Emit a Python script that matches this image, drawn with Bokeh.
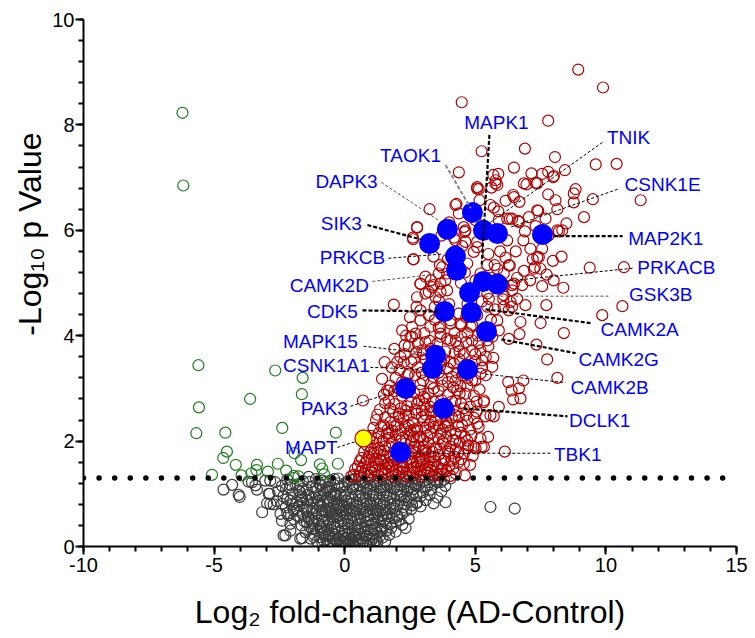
import numpy as np
from bokeh.plotting import figure
from bokeh.models import Range1d, SingleIntervalTicker, ColumnDataSource
from bokeh.core.properties import value
from bokeh.embed import file_html
from bokeh.resources import INLINE

# ---------------- data ----------------
green_pts = [(-6.21, 8.23), (-6.18, 6.85), (-5.60, 3.44), (-5.58, 2.64), (-5.68, 2.15), (-3.62, 2.80),
             (-2.66, 3.34), (-1.61, 3.20), (-1.64, 2.89), (-2.39, 2.25), (-4.57, 2.16), (-4.51, 1.80),
             (-4.65, 1.68), (-4.17, 1.55), (-0.34, 2.16), (-0.26, 1.57), (-1.92, 1.77), (-1.67, 1.64),
             (-2.56, 1.57), (-2.24, 1.44), (-3.36, 1.55), (-3.38, 1.45), (-3.57, 1.39), (-2.94, 1.42),
             (-5.08, 1.36), (-3.95, 1.35), (-0.95, 1.56), (-0.86, 1.48), (-0.79, 1.37), (-1.95, 1.34),
             (-1.77, 1.33)]

red_pts = [
    (8.94, 9.05), (9.89, 8.71), (4.48, 8.43), (7.79, 8.08), (5.24, 7.50), (6.90, 7.55), (8.05, 7.39),
    (9.61, 7.25), (10.41, 7.26), (4.37, 7.10), (8.43, 7.14), (6.48, 7.19), (7.15, 7.08), (7.56, 7.07),
    (7.79, 7.11), (8.01, 7.03), (5.69, 7.05), (5.88, 7.07), (5.77, 6.89), (5.62, 6.81), (7.31, 6.90),
    (6.96, 6.87), (8.84, 6.78), (8.77, 6.70), (11.33, 6.57), (9.50, 6.59), (7.79, 6.68), (8.07, 6.57),
    (8.77, 6.53), (6.45, 6.67), (6.16, 6.56), (6.69, 6.54), (5.13, 6.78), (5.16, 6.57), (4.28, 6.50),
    (3.25, 6.40), (5.71, 6.43), (5.88, 6.36), (7.41, 6.37), (7.69, 6.22), (8.14, 6.40), (9.16, 6.25),
    (8.49, 6.13), (8.14, 6.00), (8.33, 6.00), (5.01, 6.19), (4.37, 6.32), (4.56, 6.06), (4.60, 5.97),
    (6.22, 6.22), (6.41, 6.22), (6.67, 6.16), (2.77, 6.05), (2.61, 5.86), (4.18, 5.86), (4.24, 5.81),
    (5.07, 5.68), (6.22, 5.81), (6.84, 5.81), (7.11, 5.65), (7.56, 5.65), (7.43, 5.49), (7.97, 5.42),
    (6.16, 5.48), (5.46, 5.34), (5.74, 5.34), (6.32, 5.33), (6.86, 5.23), (7.28, 5.30), (7.49, 5.27),
    (7.73, 5.16), (9.38, 5.29), (10.69, 5.30), (8.37, 4.91), (7.56, 4.94), (6.80, 4.96), (6.41, 4.96),
    (6.09, 4.94), (3.73, 5.30), (3.92, 5.18), (2.64, 5.45), (3.09, 5.12), (2.90, 4.98), (3.22, 4.83),
    (3.41, 4.96), (3.67, 4.83), (3.60, 4.67), (1.88, 4.59), (5.52, 4.70), (6.07, 4.69), (6.35, 4.64),
    (6.92, 4.58), (7.72, 4.58), (10.63, 4.56), (9.86, 4.39), (6.41, 4.55), (6.09, 4.55),
    (8.39, 4.05), (7.75, 3.55), (8.14, 3.20), (7.34, 3.83), (6.69, 4.03), (6.28, 3.94), (5.65, 3.98),
    (5.69, 3.58), (5.26, 3.53), (5.65, 3.41), (5.26, 3.39), (6.67, 3.00), (6.45, 2.79), (6.73, 2.81),
    (6.39, 2.96), (6.84, 3.15), (6.26, 3.12), (5.90, 2.65), (5.33, 2.74), (5.58, 2.49), (5.71, 2.47),
    (5.39, 2.47), (5.13, 2.27), (5.49, 2.08), (6.13, 1.80), (5.24, 1.89), (5.01, 1.86), (4.73, 1.92),
    (4.56, 1.76), (4.35, 1.79), (4.56, 1.57), (4.09, 1.63), (3.79, 1.95), (3.73, 1.57), (3.54, 1.38),
    (4.24, 2.14), (3.86, 2.27), (3.60, 2.30), (4.24, 2.77), (4.24, 2.49), (4.56, 2.62), (4.62, 2.90),
    (4.88, 3.15), (5.16, 2.98), (4.88, 3.34), (4.43, 3.04), (4.11, 3.22), (3.73, 3.18), (4.18, 3.47),
    (4.21, 3.67), (4.56, 3.66), (4.88, 3.72), (4.98, 3.50), (5.13, 3.86), (5.46, 3.91), (4.47, 3.98),
    (3.92, 3.94), (3.67, 4.04), (4.05, 4.23), (4.47, 4.20), (4.88, 4.20), (5.84, 4.29), (6.73, 4.26),
    (7.50, 4.24), (6.28, 4.48), (2.71, 4.04), (3.09, 3.88), (2.30, 3.82), (2.74, 3.69), (2.13, 3.60),
    (1.53, 3.50), (2.01, 3.50), (1.43, 3.18), (1.69, 2.96), (2.90, 2.96), (3.41, 3.00), (2.84, 2.77),
    (3.28, 2.58), (3.09, 2.81), (1.69, 2.77), (1.49, 2.30), (2.33, 2.27), (2.77, 2.24), (2.84, 2.08),
    (2.68, 1.89), (3.09, 1.82), (3.28, 1.70), (2.56, 1.60), (3.16, 1.54), (1.82, 1.54), (2.20, 1.48),
    (2.90, 1.44), (1.37, 1.82), (1.69, 2.14), (2.45, 2.49), (2.07, 2.52),
    (0.70, 2.77), (1.82, 2.20), (1.30, 1.87), (1.11, 1.76), (0.92, 1.70), (1.62, 2.96), (2.26, 3.50),
    (2.45, 3.28), (2.97, 3.72), (2.58, 3.98), (3.67, 3.98), (4.05, 3.91), (4.88, 3.91), (5.20, 3.72),
    (5.20, 3.28), (4.24, 3.15), (4.31, 2.96), (3.03, 2.84), (2.77, 2.71), (3.28, 2.65), (2.33, 2.58),
    (2.07, 2.46), (3.03, 2.39), (3.67, 2.46), (3.41, 2.27), (2.77, 2.20), (2.52, 2.20), (2.90, 2.08),
    (3.67, 2.14), (4.05, 2.20), (4.24, 2.01), (4.69, 2.01), (4.94, 1.89), (5.33, 1.89), (4.69, 2.39),
    (5.07, 2.33), (5.33, 2.77), (4.37, 2.46), (2.13, 2.01), (1.62, 2.14), (3.03, 1.89), (2.64, 1.82),
    (1.37, 1.63), (1.62, 1.57), (2.90, 1.60), (3.41, 1.70), (3.79, 1.63),
    (2.77, 6.06), (2.62, 5.83), (2.62, 5.45), (3.64, 5.34), (4.24, 6.48), (5.07, 6.82), (4.62, 6.00),
    (4.62, 5.78), (5.07, 5.78), (4.94, 5.59), (4.69, 5.37), (3.60, 5.18), (2.90, 4.99), (3.35, 4.92),
    (3.67, 4.99), (3.92, 4.86), (3.09, 4.80), (2.77, 4.73), (3.48, 4.73), (2.90, 4.48), (3.22, 4.39),
    (2.90, 4.29), (2.58, 4.17), (3.28, 4.17), (3.67, 4.17), (4.05, 4.29), (4.37, 4.42), (4.43, 4.23),
    (4.82, 4.17), (5.07, 4.39), (5.46, 4.55), (5.46, 4.80), (5.20, 5.18), (5.01, 5.05), (2.52, 3.98),
    (5.78, 6.95), (5.84, 6.86), (7.98, 7.01), (6.86, 6.89), (7.37, 6.89), (6.48, 6.63), (5.58, 6.48),
    (5.07, 6.79), (8.20, 5.98), (7.37, 6.38), (6.32, 6.22), (6.64, 6.18), (7.31, 6.08), (7.37, 5.49),
    (7.24, 5.27), (6.28, 5.34), (5.84, 5.27), (6.09, 5.18), (6.48, 4.99), (6.41, 4.86), (6.09, 4.77),
    (0.35, 1.36), (0.62, 1.42), (0.90, 1.35), (1.15, 1.44), (1.42, 1.37), (1.68, 1.43), (1.95, 1.36),
    (2.22, 1.42), (2.48, 1.35), (2.75, 1.41), (3.05, 1.37), (3.30, 1.45), (3.62, 1.36), (3.90, 1.43),
    (4.25, 1.38), (4.60, 1.35), (0.50, 1.52), (0.78, 1.58), (1.05, 1.50), (1.30, 1.56), (1.58, 1.49),
    (1.85, 1.62), (2.10, 1.53), (2.38, 1.58), (2.65, 1.50), (2.95, 1.55), (3.25, 1.60), (3.55, 1.51),
    (4.00, 1.52), (4.35, 1.60), (4.80, 1.55), (0.65, 1.68), (0.95, 1.78), (1.20, 1.66), (1.48, 1.74),
    (1.75, 1.69), (2.00, 1.78), (2.30, 1.70), (2.55, 1.76), (2.85, 1.68), (3.10, 1.77), (3.60, 1.74),
    (3.95, 1.80), (4.20, 1.70), (4.90, 1.72), (0.85, 1.92), (1.10, 1.98), (1.55, 1.90), (1.80, 1.97),
    (2.05, 1.88), (2.30, 1.95), (2.55, 1.99), (2.85, 1.90), (3.20, 1.96), (3.50, 1.88), (3.75, 1.99),
    (4.05, 1.90), (4.40, 1.97), (4.70, 1.86), (1.00, 2.10), (1.30, 2.15), (1.95, 2.12), (2.20, 2.06),
    (2.45, 2.14), (3.15, 2.10), (3.40, 2.04), (3.90, 2.08), (4.45, 2.16), (4.85, 2.10), (5.20, 2.05),
    (1.20, 2.40), (1.75, 2.36), (2.00, 2.30), (2.25, 2.42), (2.60, 2.35), (2.95, 2.46), (3.25, 2.32),
    (3.50, 2.40), (3.90, 2.35), (4.10, 2.45), (4.50, 2.30), (4.95, 2.44), (1.35, 2.60), (1.90, 2.70),
    (2.15, 2.62), (2.55, 2.74), (2.95, 2.58), (3.55, 2.62), (3.85, 2.70), (4.00, 2.58), (4.45, 2.72),
    (4.80, 2.65), (5.05, 2.56), (1.50, 2.88), (1.90, 2.95), (2.20, 2.86), (2.50, 3.00), (3.20, 2.90),
    (3.60, 2.95), (3.95, 2.88), (4.15, 3.02), (4.70, 3.05), (4.95, 2.86), (1.95, 3.20), (2.20, 3.12),
    (2.70, 3.25), (3.00, 3.15), (3.40, 3.22), (3.60, 3.30), (3.95, 3.12), (4.50, 3.25), (5.00, 3.15),
    (1.80, 3.40), (2.55, 3.50), (2.80, 3.40), (3.10, 3.55), (3.35, 3.42), (3.70, 3.50), (3.95, 3.38),
    (4.40, 3.55), (5.40, 3.60), (1.90, 3.75), (2.45, 3.80), (3.30, 3.75), (3.55, 3.85), (3.85, 3.70),
    (4.35, 3.80), (4.65, 3.88), (2.20, 4.10), (3.05, 4.05), (3.45, 4.30), (3.90, 4.40), (4.20, 4.05),
    (4.65, 4.35), (5.30, 4.10), (5.60, 4.30),
    (0.25, 1.33), (0.55, 1.34), (0.75, 1.39), (1.00, 1.41), (1.28, 1.34), (1.55, 1.40), (1.82, 1.33),
    (2.08, 1.39), (2.35, 1.33), (2.62, 1.39), (2.90, 1.33), (3.18, 1.40), (3.45, 1.34), (3.75, 1.39),
    (4.05, 1.34), (0.40, 1.47), (0.68, 1.50), (0.92, 1.46), (1.18, 1.52), (1.45, 1.46), (1.72, 1.53),
    (1.98, 1.46), (2.25, 1.51), (2.52, 1.45), (2.80, 1.52), (3.08, 1.47), (3.40, 1.55), (3.70, 1.47),
    (4.15, 1.47), (0.58, 1.62), (0.85, 1.65), (1.12, 1.60), (1.38, 1.65), (1.65, 1.58), (1.92, 1.66),
    (2.20, 1.60), (2.48, 1.67), (2.75, 1.60), (3.00, 1.65), (3.45, 1.62), (3.85, 1.66), (4.45, 1.66),
    (0.75, 1.80), (1.02, 1.85), (1.25, 1.78), (1.50, 1.82), (1.70, 1.90), (2.15, 1.80), (2.42, 1.86),
    (2.70, 1.78), (3.00, 1.82), (3.35, 1.80), (3.65, 1.86), (4.00, 1.76), (4.25, 1.85), (0.95, 2.03),
    (1.20, 2.05), (1.45, 2.00), (1.70, 2.06), (2.35, 2.02), (2.65, 2.08), (3.00, 2.02), (3.30, 2.15),
    (3.60, 2.04), (4.15, 2.02), (4.60, 2.08), (1.10, 2.25), (1.40, 2.28), (1.65, 2.22), (1.90, 2.28),
    (2.15, 2.20), (2.45, 2.30), (2.65, 2.22), (3.10, 2.25), (3.30, 2.38), (3.75, 2.22), (3.95, 2.30),
    (4.35, 2.28), (4.80, 2.22), (1.25, 2.50), (1.55, 2.45), (1.85, 2.55), (2.35, 2.50), (2.75, 2.52),
    (3.10, 2.50), (3.40, 2.55), (3.80, 2.50), (4.25, 2.58), (4.65, 2.50), (1.55, 2.72), (1.75, 2.62),
    (2.40, 2.66), (2.70, 2.60), (3.05, 2.70), (3.40, 2.75), (3.70, 2.78), (4.10, 2.75), (4.40, 2.90),
    (5.05, 2.75), (1.75, 3.05), (2.05, 3.00), (2.35, 3.10), (2.65, 2.92), (2.90, 3.08), (3.30, 3.10),
    (3.75, 3.05), (4.30, 3.30), (4.70, 3.20), (2.10, 3.35), (2.40, 3.25), (2.95, 3.30), (3.20, 3.40),
    (3.65, 3.42), (4.05, 3.50), (4.65, 3.45), (5.40, 3.25), (2.30, 3.65), (2.65, 3.55), (3.00, 3.65),
    (3.40, 3.60), (3.80, 3.55), (4.40, 3.70), (5.00, 3.65), (5.50, 3.80), (2.35, 4.00), (2.80, 3.85),
    (3.25, 3.90), (3.60, 4.15), (4.25, 3.90), (4.70, 4.05), (5.10, 4.00), (5.90, 4.10), (2.50, 4.35),
    (2.75, 4.55), (3.45, 4.55), (4.00, 4.60), (4.70, 4.60), (5.25, 4.65), (5.75, 4.50), (6.60, 4.70),
    (3.30, 5.05), (3.85, 5.05), (4.45, 5.00), (4.60, 5.20), (5.60, 5.10), (6.60, 5.10), (7.10, 5.05),
    (8.00, 5.05), (3.40, 5.50), (3.95, 5.45), (4.50, 5.70), (5.50, 5.55), (5.95, 5.60), (6.55, 5.60),
    (7.20, 5.45), (8.30, 5.50), (3.70, 5.90), (4.00, 6.15), (5.35, 6.05), (5.90, 6.20), (6.90, 5.98),
    (7.05, 6.25), (7.80, 5.90)]

gray_pts = [
    (-4.64, 1.08), (-4.06, 0.98), (-4.02, 0.94), (-4.31, 1.17), (-3.68, 1.23), (-3.42, 1.16), (-3.36, 1.08),
    (-3.04, 1.25), (-2.87, 1.00), (-2.97, 0.82), (-3.16, 0.65), (-2.72, 0.80), (-2.66, 1.22), (-2.40, 0.81),
    (-2.46, 0.62), (-2.40, 0.49), (-2.08, 0.43), (-2.08, 0.30), (-2.34, 0.21), (-2.08, 1.17), (-2.08, 0.87),
    (-1.95, 0.72), (-1.70, 1.03), (-1.66, 0.89), (-1.44, 0.87), (-1.63, 0.16), (-1.70, 0.56), (-1.38, 1.32),
    (-1.95, 1.30), (-0.93, 1.16), (-0.74, 1.22), (-0.61, 1.13), (-0.42, 1.01), (-0.99, 0.87), (-0.87, 0.68),
    (-1.25, 0.49), (-0.93, 0.37), (-0.61, 0.24), (-0.42, 0.15), (-0.42, 0.56), (-0.16, 0.75), (-1.19, 0.18),
    (-3.55, 1.22), (-2.85, 1.25), (-2.91, 1.00), (-2.85, 0.81), (-2.15, 0.59), (-2.27, 0.21), (-1.70, 0.15),
    (-1.76, 1.06), (-1.63, 0.94), (-1.82, 0.68), (-1.44, 0.75), (-1.38, 0.53), (-1.19, 0.34), (-0.80, 0.49),
    (-0.67, 1.06), (-0.36, 1.00), (-0.29, 0.78), (-0.55, 0.68),
    (3.86, 0.84), (5.58, 0.75), (6.51, 0.72), (2.33, 0.35), (4.05, 1.29), (3.67, 1.22), (3.35, 1.32),
    (2.71, 1.19), (2.77, 0.84), (2.58, 0.78), (2.26, 0.75), (2.39, 1.06), (2.01, 0.56), (1.75, 0.43),
    (1.37, 0.30), (1.11, 0.18), (3.54, 1.22),
    (-0.85, 0.06), (-0.55, 0.04), (-0.30, 0.08), (-0.12, 0.02), (0.02, 0.05), (0.15, 0.03), (0.30, 0.07),
    (0.48, 0.04), (0.70, 0.09), (0.95, 0.05), (1.25, 0.08), (-1.05, 0.10),
    (-1.30, 0.15), (-0.95, 0.18), (-0.70, 0.13), (-0.45, 0.19), (-0.20, 0.14), (0.05, 0.17), (0.22, 0.12),
    (0.40, 0.19), (0.62, 0.15), (0.85, 0.20), (1.05, 0.13), (1.45, 0.17), (1.70, 0.22),
    (-1.50, 0.27), (-1.05, 0.30), (-0.78, 0.25), (-0.50, 0.31), (-0.25, 0.26), (0.00, 0.29), (0.28, 0.24),
    (0.52, 0.30), (0.75, 0.27), (1.00, 0.32), (1.25, 0.26), (1.60, 0.30), (1.95, 0.28),
    (-1.65, 0.40), (-1.35, 0.37), (-1.00, 0.43), (-0.70, 0.38), (-0.42, 0.44), (-0.15, 0.39), (0.12, 0.42),
    (0.38, 0.36), (0.60, 0.44), (0.85, 0.39), (1.10, 0.45), (1.40, 0.38), (2.20, 0.41),
    (-1.95, 0.52), (-1.55, 0.48), (-1.10, 0.55), (-0.60, 0.50), (-0.30, 0.55), (-0.05, 0.49), (0.22, 0.54),
    (0.50, 0.50), (0.75, 0.56), (1.00, 0.49), (1.25, 0.55), (1.50, 0.50), (1.80, 0.54), (2.10, 0.50),
    (2.45, 0.53),
    (-2.20, 0.63), (-1.60, 0.62), (-1.25, 0.66), (-1.00, 0.60), (-0.70, 0.65), (-0.40, 0.60), (-0.15, 0.67),
    (0.10, 0.61), (0.35, 0.66), (0.60, 0.62), (0.85, 0.68), (1.10, 0.61), (1.35, 0.66), (1.60, 0.62),
    (1.90, 0.67), (2.20, 0.62),
    (-2.25, 0.74), (-1.75, 0.78), (-1.20, 0.72), (-0.95, 0.77), (-0.60, 0.72), (-0.35, 0.70), (-0.05, 0.76),
    (0.20, 0.71), (0.45, 0.77), (0.72, 0.72), (0.98, 0.78), (1.22, 0.70), (1.50, 0.75), (1.75, 0.71),
    (2.00, 0.77), (2.55, 0.71), (2.90, 0.76),
    (-2.60, 0.86), (-2.20, 0.90), (-1.85, 0.84), (-1.25, 0.82), (-0.80, 0.85), (-0.55, 0.88), (-0.25, 0.83),
    (0.05, 0.87), (0.30, 0.82), (0.58, 0.89), (0.85, 0.83), (1.10, 0.88), (1.35, 0.81), (1.62, 0.87),
    (1.88, 0.82), (2.15, 0.89), (2.45, 0.85), (3.10, 0.88), (3.40, 0.82),
    (-2.35, 0.95), (-2.00, 1.00), (-1.40, 0.98), (-1.10, 0.93), (-0.80, 0.99), (-0.50, 0.94), (-0.15, 0.97),
    (0.15, 0.92), (0.42, 0.98), (0.70, 0.93), (0.95, 1.00), (1.20, 0.94), (1.48, 0.99), (1.72, 0.93),
    (2.00, 0.98), (2.30, 0.94), (2.60, 0.99), (2.90, 0.95), (3.25, 0.98), (3.55, 0.93),
    (-2.55, 1.05), (-2.25, 1.09), (-1.45, 1.08), (-1.15, 1.03), (-0.85, 1.08), (-0.55, 1.04), (-0.20, 1.10),
    (0.05, 1.04), (0.32, 1.09), (0.60, 1.03), (0.85, 1.08), (1.10, 1.02), (1.38, 1.07), (1.62, 1.03),
    (1.88, 1.09), (2.15, 1.04), (2.65, 1.09), (3.00, 1.03), (3.30, 1.08), (3.70, 1.05),
    (-2.40, 1.15), (-1.80, 1.18), (-1.25, 1.14), (-0.95, 1.19), (-0.40, 1.17), (-0.10, 1.13), (0.18, 1.19),
    (0.45, 1.14), (0.72, 1.20), (0.98, 1.15), (1.25, 1.19), (1.50, 1.13), (1.75, 1.18), (2.00, 1.14),
    (2.30, 1.19), (2.55, 1.13), (2.85, 1.18), (3.15, 1.14), (3.45, 1.19), (3.85, 1.15),
    (-2.20, 1.27), (-1.60, 1.24), (-1.10, 1.28), (-0.55, 1.25), (-0.25, 1.29), (0.10, 1.23), (0.40, 1.28),
    (0.68, 1.24), (0.95, 1.29), (1.22, 1.23), (1.50, 1.27), (1.80, 1.23), (2.10, 1.28), (2.40, 1.24),
    (2.70, 1.29), (3.00, 1.25), (3.25, 1.22), (3.60, 1.28),
    (-0.65, 0.02), (-0.40, 0.05), (-0.20, 0.04), (-0.05, 0.08), (0.08, 0.02), (0.22, 0.06), (0.38, 0.02),
    (0.58, 0.06), (0.80, 0.03), (1.10, 0.04), (-0.80, 0.11), (-0.55, 0.10), (-0.33, 0.12), (-0.08, 0.10),
    (0.12, 0.11), (0.32, 0.10), (0.50, 0.12), (0.72, 0.10), (0.95, 0.14), (1.20, 0.12), (1.55, 0.10),
    (-1.15, 0.22), (-0.85, 0.23), (-0.60, 0.20), (-0.35, 0.22), (-0.08, 0.20), (0.15, 0.24), (0.35, 0.20),
    (0.58, 0.23), (0.80, 0.21), (1.10, 0.23), (1.35, 0.20), (-1.25, 0.33), (-0.92, 0.34), (-0.65, 0.33),
    (-0.38, 0.35), (-0.10, 0.33), (0.15, 0.34), (0.40, 0.32), (0.65, 0.35), (0.90, 0.32), (1.15, 0.34),
    (1.45, 0.33), (1.78, 0.35), (-1.45, 0.46), (-1.20, 0.44), (-0.85, 0.47), (-0.55, 0.45), (-0.25, 0.47),
    (0.00, 0.44), (0.28, 0.47), (0.50, 0.43), (0.80, 0.47), (1.05, 0.43), (1.30, 0.47), (1.60, 0.44),
    (1.95, 0.47), (-1.80, 0.58), (-1.40, 0.57), (-0.85, 0.58), (-0.50, 0.57), (-0.20, 0.60), (0.05, 0.56),
    (0.35, 0.58), (0.60, 0.56), (0.90, 0.59), (1.15, 0.57), (1.45, 0.59), (1.70, 0.57), (2.00, 0.60),
    (-1.95, 0.68), (-1.45, 0.70), (-1.10, 0.68), (-0.80, 0.70), (-0.50, 0.66), (-0.25, 0.72), (0.05, 0.69),
    (0.30, 0.68), (0.55, 0.70), (0.80, 0.66), (1.05, 0.71), (1.28, 0.68), (1.55, 0.70), (1.85, 0.72),
    (2.35, 0.68), (-2.00, 0.80), (-1.60, 0.82), (-1.05, 0.80), (-0.65, 0.80), (-0.40, 0.82), (-0.10, 0.80),
    (0.18, 0.81), (0.45, 0.83), (0.72, 0.80), (0.98, 0.83), (1.22, 0.80), (1.50, 0.83), (1.75, 0.80),
    (2.30, 0.80), (2.75, 0.82), (-1.70, 0.95), (-1.25, 0.92), (-0.95, 0.95), (-0.65, 0.92), (-0.35, 0.96),
    (0.00, 0.95), (0.28, 0.92), (0.55, 0.96), (0.82, 0.92), (1.08, 0.97), (1.32, 0.92), (1.60, 0.96),
    (1.85, 0.92), (2.15, 0.97), (2.45, 0.93), (2.75, 0.97), (-2.10, 1.12), (-1.60, 1.10), (-1.10, 1.12),
    (-0.70, 1.12), (-0.25, 1.20), (0.00, 1.18), (0.30, 1.14), (0.58, 1.16), (0.85, 1.13), (1.10, 1.17),
    (1.38, 1.12), (1.62, 1.16), (1.90, 1.12), (2.15, 1.16), (2.42, 1.10), (2.70, 1.15), (3.05, 1.12),
    (-1.35, 1.22), (-0.85, 1.25), (-0.40, 1.28), (0.25, 1.26), (0.55, 1.28), (0.80, 1.22), (1.08, 1.27),
    (1.35, 1.24), (1.65, 1.28), (1.95, 1.25), (2.25, 1.27), (2.55, 1.22), (2.85, 1.26), (3.45, 1.25),
    (3.80, 1.27)]

# highlighted kinases (filled blue)
kinase_pts = [(4.89, 6.34), (3.93, 6.02), (3.25, 5.75), (5.31, 6.00), (5.85, 5.94), (7.57, 5.92),
              (4.24, 5.51), (4.28, 5.24), (5.31, 5.03), (5.85, 4.98), (4.78, 4.82), (3.82, 4.46),
              (4.85, 4.44), (5.43, 4.08), (3.48, 3.63), (3.36, 3.38), (4.70, 3.36), (2.33, 3.00),
              (3.78, 2.62), (2.13, 1.79)]
mapt_pt = (0.72, 2.05)

threshold = 1.3  # -log10(0.05)

gene_labels = ["MAPK1", "TNIK", "TAOK1", "DAPK3", "CSNK1E", "SIK3", "MAP2K1", "PRKCB", "CAMK2D",
               "PRKACB", "GSK3B", "CDK5", "CAMK2A", "MAPK15", "CAMK2G", "CSNK1A1", "CAMK2B", "PAK3",
               "DCLK1", "MAPT", "TBK1"]

x_tick_labels = {-10: "-10", -5: "-5", 0: "0", 5: "5", 10: "10", 15: "15"}
x_title = "Log\u2082 fold-change (AD-Control)"
y_title = "-Log\u2081\u2080 p Value"

# ---------------- layout (label placement / leader lines) ----------------
label_pos = [(5.81, 8.05), (10.87, 7.77), (2.52, 7.41), (0.07, 6.93), (12.17, 6.86), (-0.13, 6.12),
             (12.29, 5.85), (0.30, 5.49), (-0.59, 4.96), (12.70, 5.30), (12.10, 4.79), (-0.47, 4.46),
             (11.29, 4.12), (-0.93, 3.89), (10.49, 3.55), (-0.70, 3.44), (10.14, 3.02), (-0.78, 2.62),
             (9.76, 2.39), (-1.28, 1.88), (8.92, 1.75)]
leader = [((5.54, 7.81), (5.24, 5.30), "thick"), ((9.87, 7.67), (5.58, 6.15), "thin"),
          ((3.86, 7.24), (4.82, 6.42), "grey"), ((1.40, 6.91), (3.59, 6.19), "thingrey"),
          ((10.45, 6.78), (6.35, 6.06), "thin"), ((0.87, 6.10), (2.90, 5.83), "thick"),
          ((8.00, 5.89), (10.64, 5.89), "thick"), ((1.67, 5.47), (3.78, 5.55), "thin"),
          ((1.06, 5.03), (3.55, 5.17), "thingrey"), ((11.02, 5.28), (6.08, 5.03), "thin"),
          ((5.39, 4.75), (10.10, 4.75), "thingrey"), ((0.68, 4.48), (3.67, 4.46), "thick"),
          ((5.39, 4.50), (9.41, 4.24), "thick"), ((0.72, 3.80), (3.05, 3.67), "thin"),
          ((6.00, 3.93), (8.84, 3.67), "thick"), ((0.98, 3.40), (3.05, 3.36), "thin"),
          ((5.39, 3.27), (8.45, 3.11), "thin"), ((0.22, 2.66), (1.90, 2.94), "thin"),
          ((4.55, 2.62), (8.53, 2.47), "thick"), ((-0.28, 1.88), (0.41, 1.99), "thin"),
          ((2.59, 1.77), (7.88, 1.77), "thin")]

FONT = "Liberation Sans"
p = figure(frame_width=653, frame_height=527, x_range=Range1d(-10, 15), y_range=Range1d(0, 10),
           output_backend="svg", toolbar_location=None,
           min_border_left=83, min_border_right=19, min_border_top=19, min_border_bottom=92)
p.outline_line_color = None
p.grid.visible = False

p.xaxis.ticker = SingleIntervalTicker(interval=5, num_minor_ticks=5)
p.yaxis.ticker = SingleIntervalTicker(interval=2, num_minor_ticks=5)
p.xaxis.major_label_overrides = x_tick_labels
for ax in (p.xaxis[0], p.yaxis[0]):
    ax.axis_line_width = 2
    ax.axis_line_color = "black"
    ax.major_tick_line_width = 2
    ax.minor_tick_line_width = 2
    ax.major_tick_in = 0
    ax.major_tick_out = 8
    ax.minor_tick_in = 0
    ax.minor_tick_out = 5
    ax.major_tick_line_color = "black"
    ax.minor_tick_line_color = "black"
    ax.major_label_text_font = FONT
    ax.major_label_text_font_size = "20px"
    ax.major_label_text_color = "black"
    ax.axis_label_text_font = FONT
    ax.axis_label_text_font_size = "32px"
    ax.axis_label_text_font_style = "normal"
    ax.axis_label_text_color = "black"
p.xaxis.major_label_standoff = 3
p.yaxis.major_label_standoff = 1
p.xaxis.axis_label = x_title
p.xaxis.axis_label_standoff = 19
p.yaxis.axis_label = "\u00a0" * 11 + y_title
p.yaxis.axis_label_standoff = 1

def split(pts):
    return [a for a, b in pts], [b for a, b in pts]

gx, gy = split(gray_pts)
p.scatter(gx, gy, size=11, marker="circle", fill_color=None, line_color="#3a3a3a", line_width=1.2)
grx, gry = split(green_pts)
p.scatter(grx, gry, size=11, marker="circle", fill_color=None, line_color="#1e7b1e", line_width=1.2)
rx, ry = split(red_pts)
p.scatter(rx, ry, size=11, marker="circle", fill_color=None, line_color="#b00000", line_width=1.2)

# threshold dotted line (p = 0.05)
thr_x = np.linspace(-10, 14.47, 42)
p.scatter(thr_x, [threshold] * len(thr_x), size=5.5, marker="circle", fill_color="black", line_color=None)

kx, ky = split(kinase_pts)
p.scatter(kx, ky, size=21, marker="circle", fill_color="#0000ff", line_color=None)
p.scatter([mapt_pt[0]], [mapt_pt[1]], size=17, marker="circle", fill_color="#ffff00",
          line_color="#b00000", line_width=1.2)

styles = {"thick": ("black", 2.2, "4 2"), "thin": ("black", 1, "3 2"),
          "grey": ("#888888", 2, "4 2"), "thingrey": ("#555555", 1, "3 2")}
for (a, b, st) in leader:
    c, w, d = styles[st]
    p.line([a[0], b[0]], [a[1], b[1]], line_color=c, line_width=w, line_dash=d)

lsrc = ColumnDataSource(dict(x=[q[0] for q in label_pos], y=[q[1] for q in label_pos], t=gene_labels))
p.text(x="x", y="y", text="t", source=lsrc, text_font=value(FONT), text_font_size="19px",
       text_color="#0000ff", text_align="center", text_baseline="middle")

open("out.html", "w").write(file_html(p, INLINE))
